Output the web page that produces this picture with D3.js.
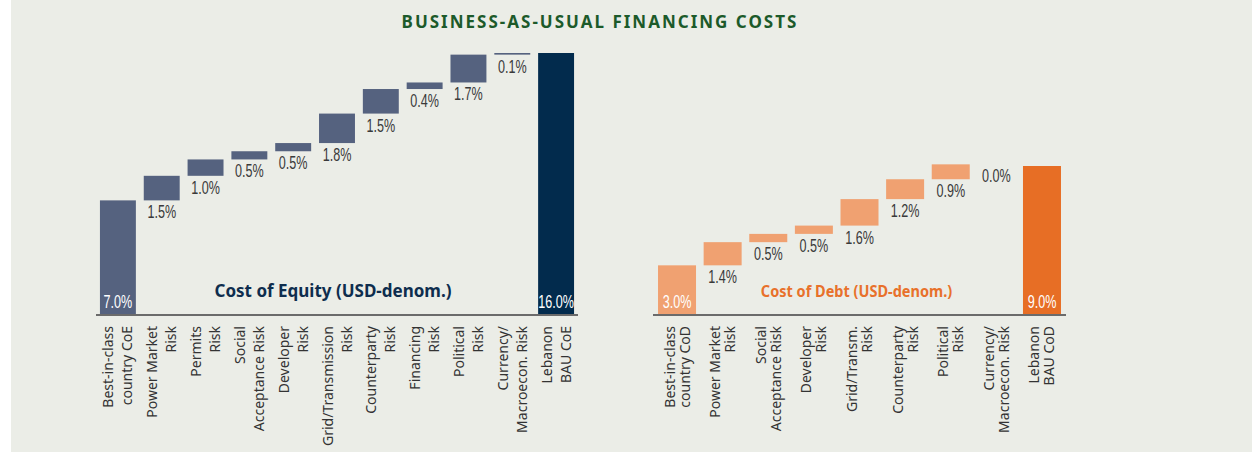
<!DOCTYPE html>
<html>
<head>
<meta charset="utf-8">
<script src="https://cdn.jsdelivr.net/npm/d3@7"></script>
<style>
  body { margin: 0; background: #ffffff; }
  svg { display: block; }
</style>
</head>
<body>
<div id="chart"></div>
<script>
// Daten
const eqCategories = [
  ["Best-in-class", "country CoE"],
  ["Power Market", "Risk"],
  ["Permits", "Risk"],
  ["Social", "Acceptance Risk"],
  ["Developer", "Risk"],
  ["Grid/Transmission", "Risk"],
  ["Counterparty", "Risk"],
  ["Financing", "Risk"],
  ["Political", "Risk"],
  ["Currency/", "Macroecon. Risk"],
  ["Lebanon", "BAU CoE"]
];
const eqBase = 7.0;
const eqSteps = [1.5, 1.0, 0.5, 0.5, 1.8, 1.5, 0.4, 1.7, 0.1];
const eqTotal = 16.0;

const debtCategories = [
  ["Best-in-class", "country CoD"],
  ["Power Market", "Risk"],
  ["Social", "Acceptance Risk"],
  ["Developer", "Risk"],
  ["Grid/Transm.", "Risk"],
  ["Counterparty", "Risk"],
  ["Political", "Risk"],
  ["Currency/", "Macroecon. Risk"],
  ["Lebanon", "BAU CoD"]
];
const debtBase = 3.0;
const debtSteps = [1.4, 0.5, 0.5, 1.6, 1.2, 0.9, 0.0];
const debtTotal = 9.0;

const W = 1252, H = 459;
const numFont = "'Liberation Sans', Arial, sans-serif";
const textFont = "'Noto Sans', 'Open Sans', sans-serif";

const svg = d3.select("#chart")
  .append("svg")
  .attr("width", W)
  .attr("height", H);

// Hintergrund
svg.append("rect")
  .attr("x", 11).attr("y", 0)
  .attr("width", W - 11).attr("height", 452)
  .attr("fill", "#ebede7");

svg.append("text")
  .attr("x", 600)
  .attr("y", 28)
  .attr("text-anchor", "middle")
  .style("font-family", textFont)
  .style("font-weight", "bold")
  .style("font-size", "17px")
  .style("letter-spacing", "2px")
  .style("fill", "#1c5a2a")
  .text("BUSINESS-AS-USUAL FINANCING COSTS");

function drawWaterfall(cfg) {
  // Wasserfall-Daten aufbauen
  const rows = [];
  rows.push({ cat: cfg.categories[0], y0: 0, y1: cfg.base, val: cfg.base, kind: "base" });
  let cum = cfg.base;
  cfg.steps.forEach((v, i) => {
    rows.push({ cat: cfg.categories[i + 1], y0: cum, y1: cum + v, val: v, kind: "step" });
    cum += v;
  });
  rows.push({ cat: cfg.categories[cfg.categories.length - 1], y0: 0, y1: cfg.total, val: cfg.total, kind: "total" });

  const x = d3.scaleBand()
    .domain(rows.map((d, i) => i))
    .range(cfg.xRange)
    .paddingInner(cfg.padInner)
    .paddingOuter(cfg.padOuter);
  const y = d3.scaleLinear().domain([0, cfg.total]).range(cfg.yRange);

  const g = svg.append("g");

  g.selectAll(".bar")
    .data(rows)
    .join("rect")
    .attr("class", "bar")
    .attr("x", (d, i) => x(i))
    .attr("width", x.bandwidth())
    .attr("y", d => y(d.y1))
    .attr("height", d => Math.max(0, y(d.y0) - y(d.y1)))
    .attr("fill", d => d.kind === "total" ? cfg.totalColor : cfg.barColor);

  // Achsenlinie
  g.append("line")
    .attr("x1", cfg.xRange[0]).attr("x2", cfg.xRange[1])
    .attr("y1", y(0)).attr("y2", y(0))
    .attr("stroke", "#6b6b6b")
    .attr("stroke-width", 2);

  // Werte-Beschriftungen (schmal gestaucht)
  g.selectAll(".val")
    .data(rows)
    .join("text")
    .attr("class", "val")
    .attr("transform", (d, i) => {
      const cx = x(i) + x.bandwidth() / 2;
      const ty = d.kind === "step" ? y(d.y0) + 18 : y(0) - 7;
      return `translate(${cx},${ty}) scale(0.7,1)`;
    })
    .attr("text-anchor", "middle")
    .style("font-family", numFont)
    .style("font-size", "18px")
    .style("fill", d => d.kind === "step" ? "#3a3a3a" : "#ffffff")
    .text(d => d.val.toFixed(1) + "%");

  // Kategorien (gedreht)
  const lab = g.selectAll(".cat")
    .data(rows)
    .join("text")
    .attr("class", "cat")
    .attr("transform", (d, i) => `translate(${x(i) + x.bandwidth() / 2},${y(0) + 11}) rotate(-90)`)
    .attr("text-anchor", "end")
    .style("font-family", textFont)
    .style("font-size", "14px")
    .style("fill", "#333");
  lab.append("tspan")
    .attr("x", 0)
    .attr("y", -cfg.lineGap / 2 + 5)
    .text(d => d.cat[0]);
  lab.append("tspan")
    .attr("x", 0)
    .attr("y", cfg.lineGap / 2 + 5)
    .text(d => d.cat[1]);

  // Untertitel im Diagramm
  const cx = (cfg.xRange[0] + cfg.xRange[1]) / 2 + cfg.labelDx;
  g.append("text")
    .attr("transform", `translate(${cx},${y(0) - 18}) scale(${cfg.labelScale},1)`)
    .attr("text-anchor", "middle")
    .style("font-family", textFont)
    .style("font-weight", "bold")
    .style("font-size", cfg.labelSize)
    .style("fill", cfg.labelColor)
    .text(cfg.label);
}

drawWaterfall({
  categories: eqCategories,
  base: eqBase,
  steps: eqSteps,
  total: eqTotal,
  xRange: [96, 578],
  yRange: [315, 53],
  padInner: 0.18,
  padOuter: 0.09,
  barColor: "#55627f",
  totalColor: "#022b4d",
  lineGap: 19,
  label: "Cost of Equity (USD-denom.)",
  labelColor: "#0e2d4e",
  labelSize: "17px",
  labelScale: 1,
  labelDx: -4
});

drawWaterfall({
  categories: debtCategories,
  base: debtBase,
  steps: debtSteps,
  total: debtTotal,
  xRange: [653, 1066],
  yRange: [315, 166],
  padInner: 0.167,
  padOuter: 0.11,
  barColor: "#f0a171",
  totalColor: "#e76e25",
  lineGap: 15,
  label: "Cost of Debt (USD-denom.)",
  labelColor: "#e8712b",
  labelSize: "16.5px",
  labelScale: 0.88,
  labelDx: -3
});
</script>
</body>
</html>
